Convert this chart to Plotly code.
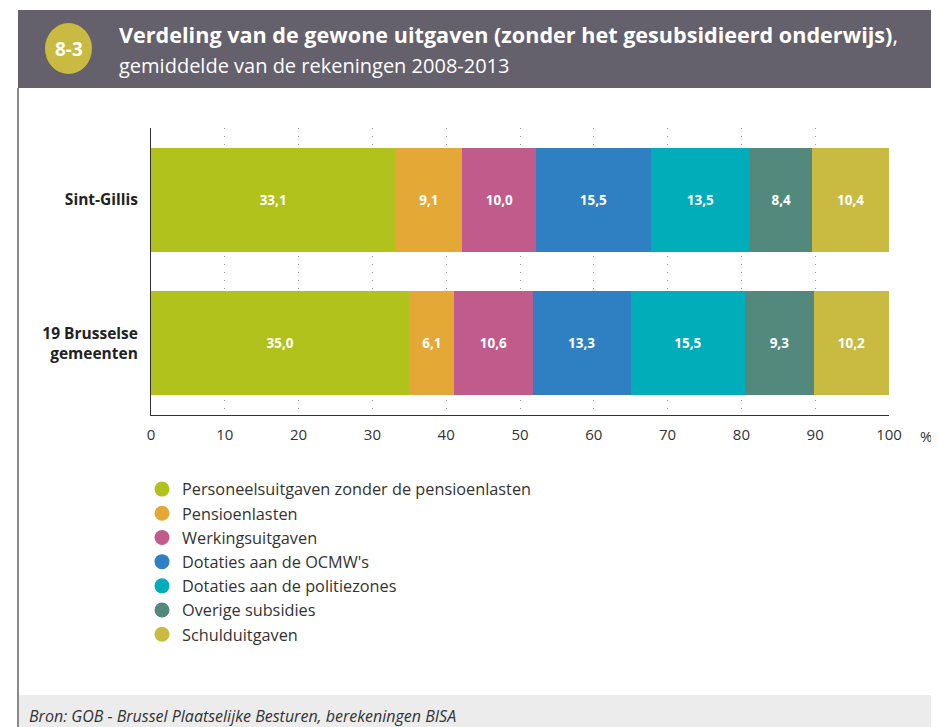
import plotly.graph_objects as go

categories = ["Sint-Gillis", "19 Brusselse<br>gemeenten"]
series_names = [
    "Personeelsuitgaven zonder de pensioenlasten",
    "Pensioenlasten",
    "Werkingsuitgaven",
    "Dotaties aan de OCMW's",
    "Dotaties aan de politiezones",
    "Overige subsidies",
    "Schulduitgaven",
]
personeel = [33.1, 35.0]
pensioen = [9.1, 6.1]
werking = [10.0, 10.6]
ocmw = [15.5, 13.3]
politie = [13.5, 15.5]
overige = [8.4, 9.3]
schuld = [10.4, 10.2]
series_values = [personeel, pensioen, werking, ocmw, politie, overige, schuld]
colors = ["#B1C21C", "#E3A835", "#C05B8B", "#2F80C3", "#00ADB9", "#53897C", "#C9BB41"]
tick_vals = [0, 10, 20, 30, 40, 50, 60, 70, 80, 90, 100]

# page body has an 8px margin: the figure is drawn 8px smaller and offset
OFF = 8
WIN_W, WIN_H = 939, 727
W, H = WIN_W - OFF, WIN_H - OFF
L, R, T, B = 151, 889, 128, 415  # plot area in window pixels

def px(x):
    return (x - L) / (R - L)

def py(y):
    return (B - y) / (B - T)

FONT = "Open Sans"
fig = go.Figure()
for name, vals, col in zip(series_names, series_values, colors):
    fig.add_trace(go.Bar(
        y=categories, x=vals, orientation="h", name=name,
        marker=dict(color=col, line=dict(width=0)),
        texttemplate="<b>%{x:.1f}</b>", textposition="inside",
        insidetextanchor="middle",
        textfont=dict(color="white", size=13.5, family=FONT),
        showlegend=False, hoverinfo="skip",
    ))
for i, (name, col) in enumerate(zip(series_names, colors)):
    fig.add_trace(go.Scatter(
        x=[None], y=[None], mode="markers", name=name, legendgroup=f"g{i}",
        marker=dict(symbol="circle", size=15, color=col),
    ))

shapes = [
    dict(type="rect", xref="paper", yref="paper", x0=px(18), x1=px(945), y0=py(88), y1=py(10),
         fillcolor="#64606C", line=dict(width=0), layer="below"),
    dict(type="rect", xref="paper", yref="paper", x0=px(18), x1=px(945), y0=py(730), y1=py(695),
         fillcolor="#ECECEC", line=dict(width=0), layer="below"),
    dict(type="line", xref="paper", yref="paper", x0=px(18), x1=px(18), y0=py(88), y1=py(730),
         line=dict(color="#8A8A8A", width=2)),
    dict(type="circle", xref="paper", yref="paper", x0=px(45), x1=px(92), y0=py(74), y1=py(23),
         fillcolor="#C9BB41", line=dict(width=0)),
]

annotations = [
    dict(text="<b>8-3</b>", xref="paper", yref="paper", x=px(68.5), y=py(49), showarrow=False,
         font=dict(color="white", size=19, family=FONT), xanchor="center", yanchor="middle"),
    dict(text="<b>Verdeling van de gewone uitgaven (zonder het gesubsidieerd onderwijs)</b>,",
         xref="paper", yref="paper", x=px(117), y=py(34), showarrow=False,
         font=dict(color="white", size=21.6, family=FONT),
         xanchor="left", yanchor="middle"),
    dict(text="gemiddelde van de rekeningen 2008-2013",
         xref="paper", yref="paper", x=px(117), y=py(65), showarrow=False,
         font=dict(color="white", size=20, family=FONT),
         xanchor="left", yanchor="middle"),
    dict(text="%", xref="paper", yref="paper", x=px(926), y=py(436), showarrow=False,
         font=dict(color="#333333", size=15, family=FONT), xanchor="center", yanchor="middle"),
    dict(text="<i>Bron: GOB - Brussel Plaatselijke Besturen, berekeningen BISA</i>",
         xref="paper", yref="paper", x=px(27), y=py(716), showarrow=False,
         font=dict(color="#333333", size=16, family=FONT), xanchor="left", yanchor="middle"),
]

fig.update_layout(
    width=W, height=H,
    margin=dict(l=L - OFF, r=WIN_W - R, t=T - OFF, b=WIN_H - B, pad=0),
    paper_bgcolor="white", plot_bgcolor="white",
    barmode="stack", bargap=0.275,
    separators=",.",
    font=dict(family=FONT, color="#333333"),
    xaxis=dict(range=[0, 100], tickvals=tick_vals, showgrid=True, gridcolor="#9A9A9A",
               griddash="1px,7px", gridwidth=1, zeroline=False, showline=True,
               linecolor="#333333", linewidth=1, ticks="", ticklabelstandoff=6,
               tickfont=dict(size=15, color="#333333"), fixedrange=True),
    yaxis=dict(categoryorder="array", categoryarray=categories[::-1], showline=True,
               linecolor="#333333", linewidth=1, ticks="", showgrid=False,
               tickfont=dict(size=15.5, color="#222222"), ticklabelstandoff=9,
               fixedrange=True),
    legend=dict(x=px(142), y=py(472), xanchor="left", yanchor="top",
                font=dict(size=16.3, color="#333333", family=FONT),
                tracegroupgap=0, bgcolor="rgba(0,0,0,0)", itemclick=False),
    shapes=shapes, annotations=annotations,
)
fig.update_yaxes(tickprefix="<b>", ticksuffix="</b>")

fig.write_html("out.html")
